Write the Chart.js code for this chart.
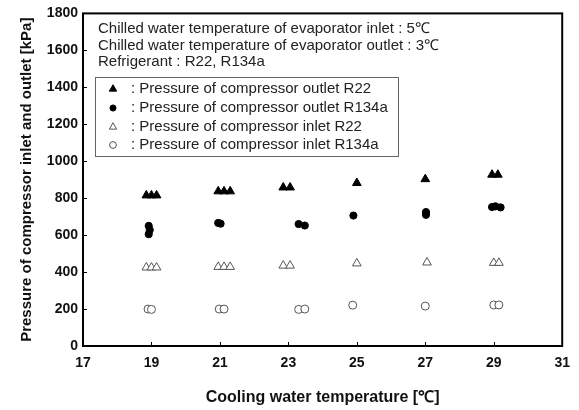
<!DOCTYPE html>
<html>
<head>
<meta charset="utf-8">
<script src="https://cdn.jsdelivr.net/npm/chart.js@4/dist/chart.umd.min.js"></script>
<style>
html,body{margin:0;padding:0;background:#fff;}
#wrap{width:579px;height:410px;position:relative;}
</style>
</head>
<body>
<div id="wrap"><canvas id="c" width="579" height="410"></canvas></div>
<script>
// Data
const xTicks = [17, 19, 21, 23, 25, 27, 29, 31];
const yTicks = [0, 200, 400, 600, 800, 1000, 1200, 1400, 1600, 1800];

const outletR22X = [18.85, 19.0, 19.15, 20.95, 21.12, 21.3, 22.85, 23.05, 25.0, 27.0, 28.95, 29.12];
const outletR22Y = [815, 815, 815, 837, 837, 837, 858, 858, 882, 903, 927, 927];

const outletR134aX = [18.92, 18.95, 18.92, 20.95, 21.02, 23.3, 23.48, 24.9, 27.02, 27.02, 28.95, 29.05, 29.2];
const outletR134aY = [650, 628, 605, 666, 662, 660, 652, 706, 725, 710, 752, 756, 750];

const inletR22X = [18.85, 19.0, 19.15, 20.95, 21.12, 21.3, 22.85, 23.05, 25.0, 27.05, 29.0, 29.15];
const inletR22Y = [425, 425, 425, 428, 428, 428, 435, 435, 447, 452, 450, 450];

const inletR134aX = [18.9, 19.0, 20.98, 21.12, 23.3, 23.48, 24.88, 27.0, 29.0, 29.15];
const inletR134aY = [200, 198, 200, 200, 198, 200, 221, 216, 222, 222];

const headerLines = [
  "Chilled water temperature of evaporator inlet : 5\u2103",
  "Chilled water temperature of evaporator outlet : 3\u2103",
  "Refrigerant : R22, R134a"
];
const seriesNames = [
  ": Pressure of compressor outlet R22",
  ": Pressure of compressor outlet R134a",
  ": Pressure of compressor inlet R22",
  ": Pressure of compressor inlet R134a"
];

function pts(xs, ys){ return xs.map((x,i)=>({x:x, y:ys[i]})); }

const FONT = "'Liberation Sans', Arial, sans-serif";
const styles = [
  {pointStyle:'triangle', radius:5, bg:'#000', border:'#000', bw:1},
  {pointStyle:'circle', radius:3.6, bg:'#000', border:'#000', bw:1},
  {pointStyle:'triangle', radius:5, bg:'#fff', border:'#555', bw:1},
  {pointStyle:'circle', radius:4, bg:'#fff', border:'#555', bw:1}
];
const dataSets = [pts(outletR22X,outletR22Y), pts(outletR134aX,outletR134aY), pts(inletR22X,inletR22Y), pts(inletR134aX,inletR134aY)];

const decor = {
  id:'decor',
  afterDatasetsDraw(chart){
    const ctx = chart.ctx, a = chart.chartArea;
    const xs = chart.scales.x, ys = chart.scales.y;
    ctx.save();
    // inward ticks
    ctx.strokeStyle = '#000'; ctx.lineWidth = 1;
    yTicks.forEach(v=>{ const y = Math.round(ys.getPixelForValue(v))+0.5; ctx.beginPath(); ctx.moveTo(a.left, y); ctx.lineTo(a.left+4, y); ctx.stroke(); });
    xTicks.forEach(v=>{ const x = Math.round(xs.getPixelForValue(v))+0.5; ctx.beginPath(); ctx.moveTo(x, a.bottom); ctx.lineTo(x, a.bottom-4); ctx.stroke(); });
    // frame
    ctx.lineWidth = 2; ctx.strokeStyle = '#000';
    ctx.strokeRect(a.left, a.top, a.right-a.left, a.bottom-a.top);
    // header text
    ctx.fillStyle = '#222';
    ctx.font = "15px " + FONT;
    ctx.textBaseline = 'middle'; ctx.textAlign = 'left';
    const hy = [29, 45.5, 62];
    headerLines.forEach((t,i)=> ctx.fillText(t, 98, hy[i]));
    // legend box
    ctx.lineWidth = 1; ctx.strokeStyle = '#666';
    ctx.strokeRect(95.5, 77.5, 303, 79);
    const ly = [89, 108, 127, 145];
    seriesNames.forEach((t,i)=>{
      const s = styles[i];
      const r = s.radius*0.85;
      ctx.fillStyle = s.bg; ctx.strokeStyle = s.border; ctx.lineWidth = s.bw;
      ctx.beginPath();
      if (s.pointStyle === 'triangle') {
        ctx.moveTo(113, ly[i]-r); ctx.lineTo(113+r*0.866, ly[i]+r*0.5); ctx.lineTo(113-r*0.866, ly[i]+r*0.5); ctx.closePath();
      } else {
        ctx.arc(113, ly[i], r, 0, Math.PI*2);
      }
      ctx.fill(); ctx.stroke();
      ctx.fillStyle = '#222';
      ctx.fillText(t, 131, ly[i]);
    });
    ctx.restore();
  }
};

new Chart(document.getElementById('c'), {
  type:'scatter',
  data:{
    datasets: dataSets.map((d,i)=>({
      label: seriesNames[i],
      data: d,
      pointStyle: styles[i].pointStyle,
      pointRadius: styles[i].radius,
      pointBackgroundColor: styles[i].bg,
      pointBorderColor: styles[i].border,
      pointBorderWidth: styles[i].bw,
      showLine:false
    }))
  },
  options:{
    responsive:false,
    animation:false,
    events:[],
    layout:{padding:{left:0, top:12, right:16, bottom:0}},
    plugins:{legend:{display:false}, tooltip:{enabled:false}},
    scales:{
      x:{
        type:'linear', min:17, max:31,
        afterBuildTicks(s){ s.ticks = xTicks.map(v=>({value:v})); },
        afterFit(s){ s.height = 64; },
        grid:{display:false, drawTicks:false},
        border:{display:false},
        ticks:{color:'#111', padding:9, maxRotation:0, callback:(v)=>String(v), font:{family:FONT, size:14, weight:'bold'}},
        title:{display:true, text:'Cooling water temperature [\u2103]', color:'#111', padding:{top:0,bottom:3}, font:{family:FONT, size:16, weight:'bold'}}
      },
      y:{
        type:'linear', min:0, max:1800,
        afterBuildTicks(s){ s.ticks = yTicks.map(v=>({value:v})); },
        afterFit(s){ s.width = 83; },
        grid:{display:false, drawTicks:false},
        border:{display:false},
        ticks:{color:'#111', padding:5, callback:(v)=>String(v), font:{family:FONT, size:14, weight:'bold'}},
        title:{display:true, text:'Pressure of compressor inlet and outlet [kPa]', color:'#111', padding:{top:18,bottom:0}, font:{family:FONT, size:15, weight:'bold'}}
      }
    }
  },
  plugins:[decor]
});
</script>
</body>
</html>
